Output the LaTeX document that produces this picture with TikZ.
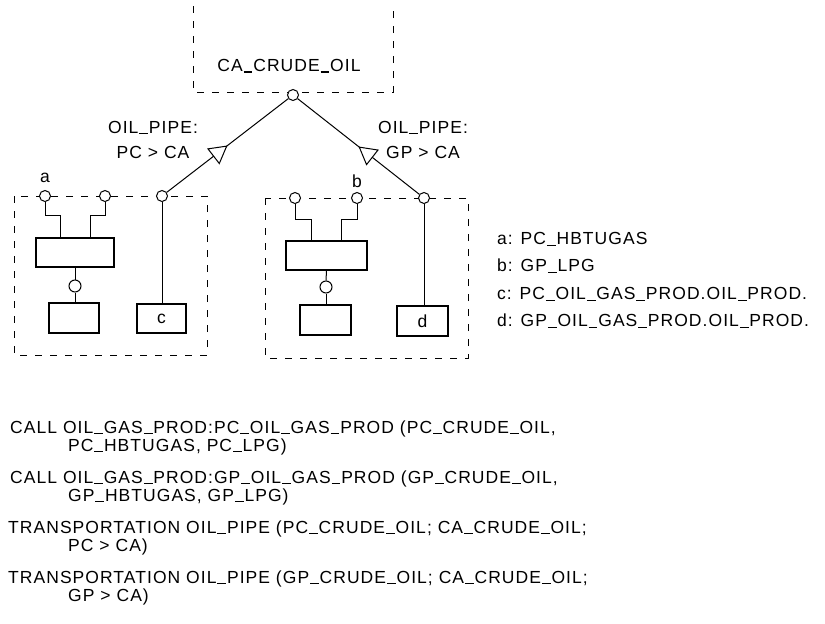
\documentclass[tikz,border=0pt]{standalone}
\usepackage{fontspec}
\setmainfont{Liberation Sans}[LetterSpace=6]
\usetikzlibrary{arrows.meta,decorations.markings}
\newcommand\us{\kern0.05em\rule[-0.05em]{0.5em}{0.06em}\kern0.05em}
\tikzset{
  dbox/.style={draw, dash pattern=on 7pt off 8pt, line width=1pt},
  sbox/.style={draw, line width=1.1pt, fill=white},
  port/.style={circle, draw, line width=1pt, fill=white, minimum size=11pt, inner sep=0pt},
  wire/.style={line width=1pt},
  lbl/.style={font=\fontsize{17.5}{25}\selectfont, inner sep=0pt},
  codetxt/.style={font=\fontsize{17.5}{20}\selectfont, inner sep=0pt, anchor=west},
  pipe/.style={line width=1pt, postaction={decorate}, decoration={markings,
     mark=at position 0.5 with {\arrow{Triangle[length=18pt,width=20pt,fill=white,line width=1pt]}}}}
}
\begin{document}
\begin{tikzpicture}[x=1pt,y=-1pt]
\useasboundingbox (0,0) rectangle (825,624);
% top dashed box (open at top)
\draw[dbox] (193,6) -- (193,92) -- (393,92) -- (393,6);
\node[lbl] (ca) at (289,66) {CA\us CRUDE\us OIL};
\node[port] (top) at (293,95) {};

% left group
\draw[dbox] (14,196) rectangle (207,355);
\node[port] (la) at (45,196) {};
\node[port] (lb) at (105,196) {};
\node[port] (lc) at (162,196) {};
\node[lbl] (alab) at (45,178) {a};
\node[sbox, minimum width=78pt, minimum height=29pt] (lbig) at (75,252.5) {};
\node[port, minimum size=12pt] (lmid) at (75,286) {};
\node[sbox, minimum width=50pt, minimum height=30pt] (lsmall) at (74,318) {};
\node[sbox, minimum width=49pt, minimum height=29pt, lbl] (cbox) at (161.5,318.5) {c};
\draw[wire] (la.south) |- (60,215) -- (60,238);
\draw[wire] (lb.south) |- (90,215) -- (90,238);
\draw[wire] (lbig.south) -- (lmid.north);
\draw[wire] (lmid.south) -- (lmid.south |- lsmall.north);
\draw[wire] (lc.south) -- (lc.south |- cbox.north);

% right group
\draw[dbox] (265,198) rectangle (468,358);
\node[port] (ra) at (295,198) {};
\node[port] (rb) at (357,198) {};
\node[port] (rc) at (424,198) {};
\node[lbl] (blab) at (357,181) {b};
\node[sbox, minimum width=81pt, minimum height=29pt] (rbig) at (326.5,255.5) {};
\node[port, minimum size=12pt] (rmid) at (326,287) {};
\node[sbox, minimum width=51pt, minimum height=30pt] (rsmall) at (325.5,320) {};
\node[sbox, minimum width=51pt, minimum height=30pt, lbl] (dbox) at (422.5,321) {d};
\draw[wire] (ra.south) |- (311,219) -- (311,241);
\draw[wire] (rb.south) |- (341,219) -- (341,241);
\draw[wire] (rbig.south) -- (rmid.north);
\draw[wire] (rmid.south) -- (rmid.south |- rsmall.north);
\draw[wire] (rc.south) -- (rc.south |- dbox.north);

% pipes
\draw[pipe] (lc) -- (top);
\draw[pipe] (rc) -- (top);
\node[lbl, align=center] (lp) at (153,140) {OIL\us PIPE:\\PC > CA};
\node[lbl, align=center] (rp) at (423,140) {OIL\us PIPE:\\GP > CA};

% legend
\node[codetxt] (la1) at (497,239) {a: PC\us HBTUGAS};
\node[codetxt] (lb1) at (497,266) {b: GP\us LPG};
\node[codetxt] (lc1) at (497,294) {c: PC\us OIL\us GAS\us PROD.OIL\us PROD.};
\node[codetxt] (ld1) at (497,321) {d: GP\us OIL\us GAS\us PROD.OIL\us PROD.};

% code
\node[codetxt] (t1) at (10,429) {CALL OIL\us GAS\us PROD:PC\us OIL\us GAS\us PROD (PC\us CRUDE\us OIL,};
\node[codetxt] (t2) at (68,447) {PC\us HBTUGAS, PC\us LPG)};
\node[codetxt] (t3) at (10,479) {CALL OIL\us GAS\us PROD:GP\us OIL\us GAS\us PROD (GP\us CRUDE\us OIL,};
\node[codetxt] (t4) at (68,497) {GP\us HBTUGAS, GP\us LPG)};
\node[codetxt] (t5) at (8,529) {TRANSPORTATION OIL\us PIPE (PC\us CRUDE\us OIL; CA\us CRUDE\us OIL;};
\node[codetxt] (t6) at (68,547) {PC > CA)};
\node[codetxt] (t7) at (8,579) {TRANSPORTATION OIL\us PIPE (GP\us CRUDE\us OIL; CA\us CRUDE\us OIL;};
\node[codetxt] (t8) at (68,597) {GP > CA)};
\end{tikzpicture}
\end{document}
